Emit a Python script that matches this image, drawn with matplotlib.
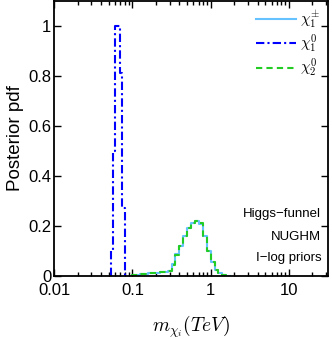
import numpy as np
import matplotlib
matplotlib.use("Agg")
import matplotlib.pyplot as plt
from matplotlib.ticker import LogLocator, NullFormatter

plt.rcParams["font.family"] = ["Liberation Sans", "DejaVu Sans"]
plt.rcParams["mathtext.fontset"] = "cm"

# ---- data ----
# chi_1^0 histogram (TeV bin edges, pdf values)
n1_edges = [0.0533, 0.0570, 0.0608, 0.0652, 0.0698, 0.0746, 0.0797]
n1_vals = [0.10, 0.50, 1.00, 1.00, 0.81, 0.27]

# chi_2^0 and chi_1^pm share bins (log10 TeV)
log_edges = [-1.00, -0.95, -0.90, -0.85, -0.80, -0.75, -0.70, -0.65, -0.60, -0.55,
             -0.50, -0.45, -0.40, -0.35, -0.30, -0.25, -0.20, -0.15, -0.10, -0.05,
             0.00, 0.05, 0.10, 0.15, 0.20, 0.25]
n2_vals = [0.003, 0.005, 0.007, 0.009, 0.010, 0.012, 0.013, 0.014, 0.016, 0.018,
           0.045, 0.085, 0.120, 0.160, 0.190, 0.210, 0.220, 0.210, 0.160, 0.100,
           0.055, 0.025, 0.010, 0.004, 0.001]
c1_vals = [0.003, 0.005, 0.007, 0.009, 0.010, 0.012, 0.013, 0.014, 0.016, 0.018,
           0.046, 0.086, 0.121, 0.161, 0.191, 0.211, 0.219, 0.209, 0.159, 0.099,
           0.054, 0.024, 0.010, 0.004, 0.001]

xticks = [0.01, 0.1, 1, 10]
xticklabels = ["0.01", "0.1", "1", "10"]
yticks = [0, 0.2, 0.4, 0.6, 0.8, 1.0]
yticklabels = ["0", "0.2", "0.4", "0.6", "0.8", "1"]
notes = ["Higgs\u2212funnel", "NUGHM", "I\u2212log priors"]


def step_xy(edges, vals):
    xs, ys = [edges[0]], [0.0]
    for i, v in enumerate(vals):
        xs += [edges[i], edges[i + 1]]
        ys += [v, v]
    xs.append(edges[-1]); ys.append(0.0)
    return xs, ys


fig = plt.figure(figsize=(3.32, 3.39), dpi=100)
ax = fig.add_axes([0.163, 0.186, 0.825, 0.811])

edges2 = [10 ** e for e in log_edges]
x, y = step_xy(edges2, c1_vals)
ax.plot(x, y, color="#66c2ff", lw=1.5, ls="-", label=r"$\chi_1^{\pm}$")
x, y = step_xy(n1_edges, n1_vals)
ax.plot(x, y, color="#0000ff", lw=1.5, dashes=(4, 1.5, 1, 1.5), label=r"$\chi_1^{0}$")
x, y = step_xy(edges2, n2_vals)
ax.plot(x, y, color="#22cc22", lw=1.5, dashes=(3, 2), label=r"$\chi_2^{0}$")

ax.set_xscale("log")
ax.set_xlim(0.01, 31.6)
ax.set_ylim(0, 1.1)
ax.set_xticks(xticks)
ax.set_xticklabels(xticklabels)
ax.xaxis.set_minor_locator(LogLocator(base=10, subs=np.arange(2, 10)))
ax.xaxis.set_minor_formatter(NullFormatter())
ax.set_yticks(yticks)
ax.set_yticklabels(yticklabels)
ax.tick_params(which="both", direction="in", top=True, right=True, labelsize=12, width=1)
ax.tick_params(which="major", length=5)
ax.tick_params(which="minor", length=3)
ax.tick_params(axis="x", pad=5)
ax.tick_params(axis="y", pad=2)
for s in ax.spines.values():
    s.set_linewidth(1.3)

ax.set_ylabel("Posterior pdf", fontsize=13.5, labelpad=3)
ax.set_xlabel(r"$m_{\chi_i}(TeV)$", fontsize=14, labelpad=11)

leg = ax.legend(loc="upper right", frameon=False, fontsize=11, handlelength=2.6,
                borderaxespad=0.1, labelspacing=0.15, handletextpad=0.3)

for txt, yy in zip(notes, [0.225, 0.142, 0.065]):
    ax.text(0.975, yy, txt, transform=ax.transAxes, ha="right", va="center", fontsize=9.5)

fig.savefig("out.png", dpi=100)
